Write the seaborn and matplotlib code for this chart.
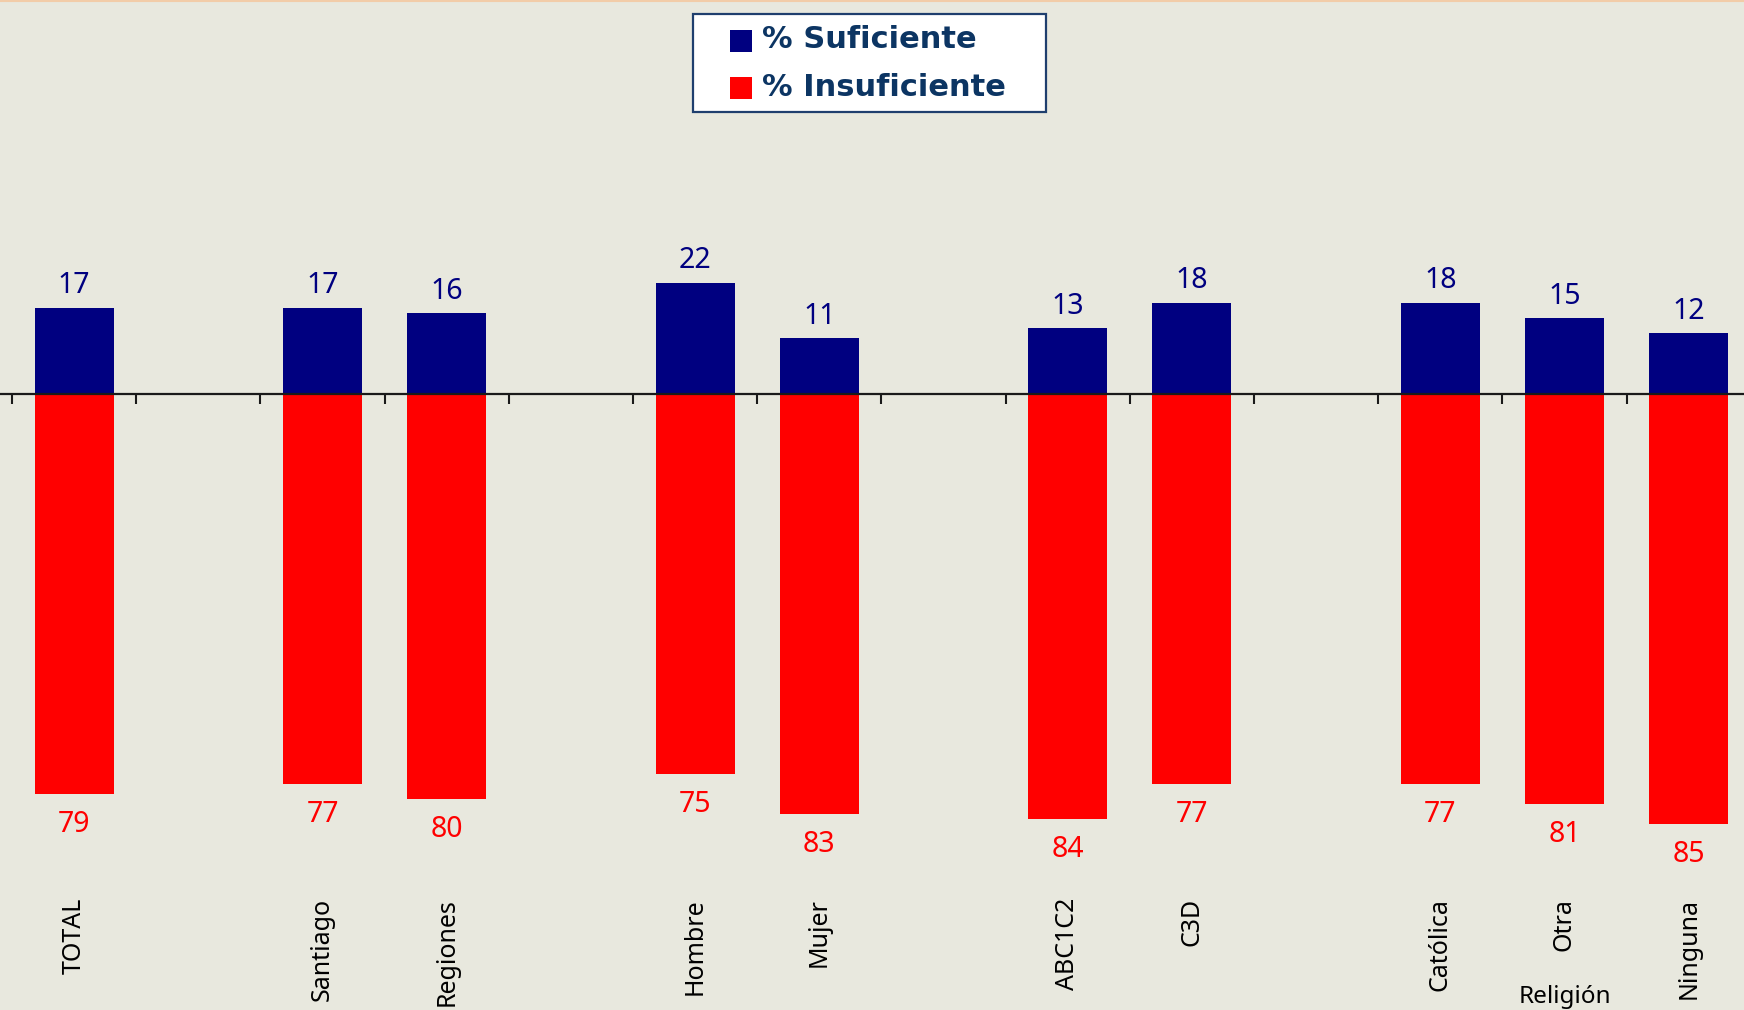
import numpy as np
import pandas as pd
import matplotlib
matplotlib.use("Agg")
import matplotlib.pyplot as plt
from matplotlib.patches import Rectangle
from matplotlib.lines import Line2D
import seaborn as sns

# ---------------- data ----------------
categories = ["TOTAL", "Santiago", "Regiones", "Hombre", "Mujer",
              "ABC1C2", "C3D", "Católica", "Otra", "Ninguna"]
suficiente = [17, 17, 16, 22, 11, 13, 18, 18, 15, 12]
insuficiente = [79, 77, 80, 75, 83, 84, 77, 77, 81, 85]
slot_order = ["TOTAL", "_g1", "Santiago", "Regiones", "_g2", "Hombre", "Mujer",
              "_g3", "ABC1C2", "C3D", "_g4", "Católica", "Otra", "Ninguna"]
group_label = "Religión"
group_under = "Otra"
legend_labels = ["% Suficiente", "% Insuficiente"]

# ---------------- style ----------------
BG = "#E8E8DE"
NAVY = "#000080"
RED = "#FF0000"
LEG_TXT = "#0C3563"
sns.set_theme(style="white")
plt.rcParams["font.family"] = ["DejaVu Sans"]
TXT = ["Noto Sans", "DejaVu Sans"]

W, H = 1744, 1010
fig = plt.figure(figsize=(W / 100, H / 100), dpi=100, facecolor=BG)
ax = fig.add_axes([0, 0, 1, 1])
ax.set_facecolor(BG)

df = pd.DataFrame({"cat": categories, "suf": suficiente,
                   "ins": [-v for v in insuficiente]})

sns.barplot(data=df, x="cat", y="suf", order=slot_order, color=NAVY,
            saturation=1, width=0.636, errorbar=None, linewidth=0, ax=ax)
sns.barplot(data=df, x="cat", y="ins", order=slot_order, color=RED,
            saturation=1, width=0.636, errorbar=None, linewidth=0, ax=ax)

# axis line at zero with ticks at slot boundaries
for s in ["top", "right", "left"]:
    ax.spines[s].set_visible(False)
ax.spines["bottom"].set_position(("data", 0))
ax.spines["bottom"].set_color("#1a1a1a")
ax.spines["bottom"].set_linewidth(1.6)
ax.set_xticks(np.arange(-0.5, len(slot_order), 1.0))
ax.set_xticklabels([])
ax.set_yticks([])
ax.tick_params(axis="x", direction="out", length=7.5, width=1.5,
               color="#1a1a1a", bottom=True)
ax.set_xlabel("")
ax.set_ylabel("")

# scales: 5.06 px per unit, zero line at y=394 px; slot = 124.2 px
px_per_unit = 5.06
zero_px = 394
ax.set_ylim(-(H - zero_px) / px_per_unit, zero_px / px_per_unit)
slot_px = 124.2
first_tick_px = 12
ax.set_xlim(-0.5 - first_tick_px / slot_px, -0.5 + (W - first_tick_px) / slot_px)

# value and category labels
off_top = 14.5 / px_per_unit
off_bot = 16 / px_per_unit
for cat, s, i in zip(categories, suficiente, insuficiente):
    x = slot_order.index(cat)
    ax.text(x, s + off_top, f"{s}", ha="center", va="baseline",
            fontsize=20.5, color=NAVY, family=TXT)
    ax.text(x, -i - off_bot, f"{i}", ha="center", va="top",
            fontsize=20.5, color=RED, family=TXT)
    ax.text(x, -(898 - zero_px) / px_per_unit, cat, rotation=90,
            ha="center", va="top", fontsize=18, color="black", family=TXT)

ax.text(slot_order.index(group_under), -(997 - zero_px) / px_per_unit,
        group_label, ha="center", va="center", fontsize=17.5, color="black",
        family=TXT)

# legend box (figure pixel coordinates)
def fx(p):
    return p / W

def fy(p):
    return 1 - p / H

fig.patches.append(Rectangle((fx(693), fy(112)), fx(353), (112 - 14) / H,
                             transform=fig.transFigure, facecolor="white",
                             edgecolor="#1F3F6E", linewidth=1.6, zorder=10))
for (col, top, lab, cy) in [(NAVY, 30, legend_labels[0], 40),
                            (RED, 77, legend_labels[1], 87)]:
    fig.patches.append(Rectangle((fx(730), fy(top + 22)), fx(22), 22 / H,
                                 transform=fig.transFigure, facecolor=col,
                                 edgecolor="none", zorder=11))
    fig.text(fx(762), fy(cy), lab, ha="left", va="center", fontsize=22,
             fontweight="bold", color=LEG_TXT, zorder=12)

# thin slide border at the top
fig.add_artist(Line2D([0, 1], [1 - 1 / H, 1 - 1 / H], transform=fig.transFigure,
                      color="#F2CCA8", linewidth=1.5))

fig.savefig("out.png", dpi=100, facecolor=BG)
